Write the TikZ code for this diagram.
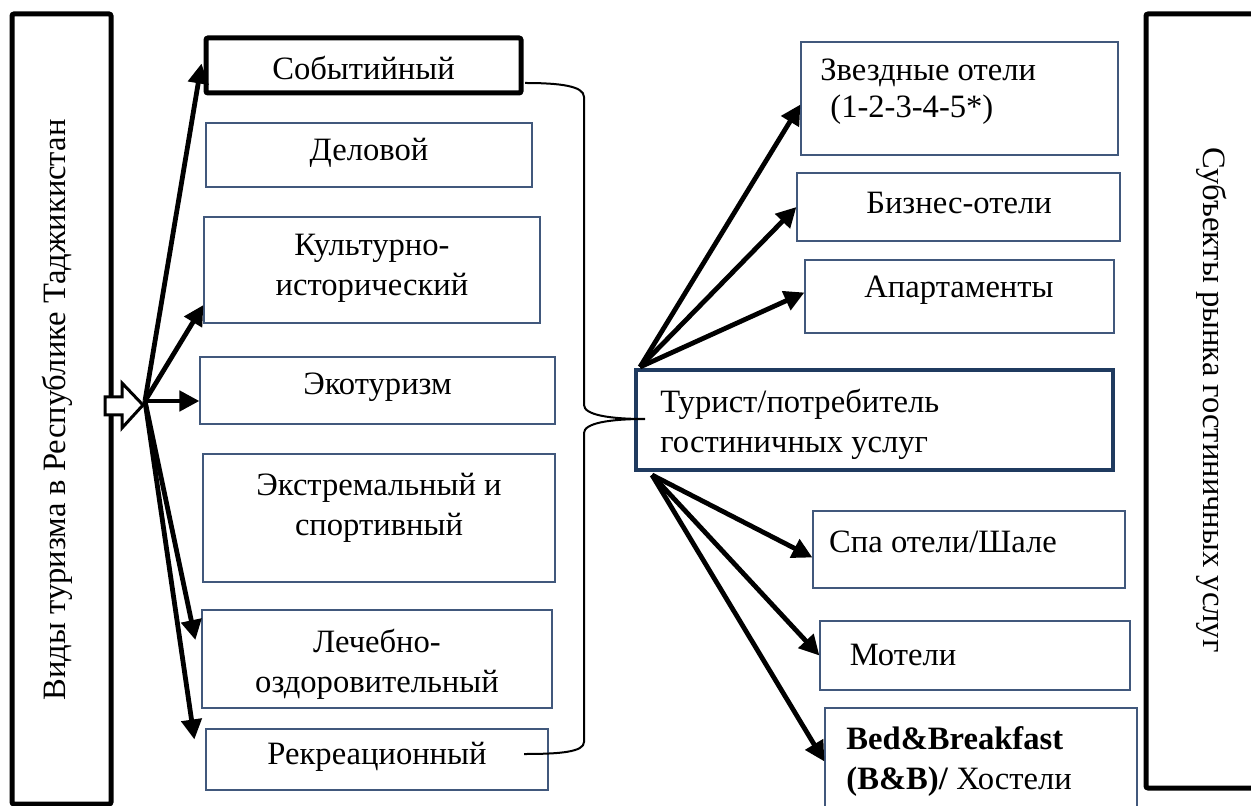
\documentclass[tikz,border=0pt]{standalone}
\usepackage{fontspec}
\setmainfont{Liberation Serif}
\usetikzlibrary{arrows.meta,calc}
\definecolor{thinb}{HTML}{41587C}
\definecolor{navy}{HTML}{1F3A5F}
\begin{document}
\begin{tikzpicture}[x=0.5pt,y=-0.5pt,
  box/.style={draw=thinb, line width=0.6pt, inner sep=0pt},
  txt/.style={font=\fontsize{16.3}{20}\selectfont, align=center, inner sep=0pt},
  arr/.style={line width=2.4pt, -{Triangle[length=10pt,width=10pt]}},
  big/.style={draw=black, line width=2.5pt, rounded corners=1pt}]
\useasboundingbox (0,0) rectangle (1251,806);
\clip (0,0) rectangle (1251,806);

% big side boxes
\node[big, minimum width=49.5pt, minimum height=395pt] (L) at (61.5,409) {};
\node[big, minimum width=59.5pt, minimum height=387pt] (R) at (1205.5,401) {};
\node[txt, rotate=90] (Lt) at (57,410) {Виды туризма в Республике Таджикистан};
\node[txt, rotate=-90] (Rt) at (1212,400) {Субъекты рынка гостиничных услуг};

% left boxes
\node[draw=black, line width=2.5pt, rounded corners=1pt, minimum width=157.5pt, minimum height=27.5pt, inner sep=0pt] (ev) at (363.5,65.5) {};
\node[txt] (evt) at (363.5,68) {Событийный};
\node[box, minimum width=163pt, minimum height=32pt] (del) at (369,155) {};
\node[txt] (delt) at (369,153) {Деловой};
\node[box, minimum width=168pt, minimum height=53pt] (kul) at (372,270) {};
\node[txt] (kult) at (372,268) {Культурно-\\исторический};
\node[box, minimum width=177.5pt, minimum height=33.5pt] (eko) at (377.5,390.5) {};
\node[txt] (ekot) at (377.5,387) {Экотуризм};
\node[box, minimum width=176pt, minimum height=64pt] (ext) at (379,518) {};
\node[txt] (extt) at (379,508) {Экстремальный и\\спортивный};
\node[box, minimum width=175pt, minimum height=49pt] (leh) at (377,659) {};
\node[txt] (leht) at (377,664) {Лечебно-\\оздоровительный};
\node[box, minimum width=171pt, minimum height=30.5pt] (rek) at (377,759.5) {};
\node[txt] (rekt) at (377,757) {Рекреационный};

% centre box
\node[draw=navy, line width=1.8pt, minimum width=238.5pt, minimum height=50pt, inner sep=0pt] (tur) at (874.5,420) {};
\node[txt, align=left, anchor=west] (turt) at (660,424) {Турист/потребитель\\гостиничных услуг};

% right boxes
\node[box, minimum width=158.5pt, minimum height=56.5pt] (zv) at (959.5,98.5) {};
\node[txt, align=left, anchor=west] (zvt) at (820,92) {Звездные отели\\[-1.5pt]\hspace{5pt}(1-2-3-4-5*)};
\node[box, minimum width=161.5pt, minimum height=34pt] (biz) at (958.5,207) {};
\node[txt] (bizt) at (959,203) {Бизнес-отели};
\node[box, minimum width=154.5pt, minimum height=36.5pt] (apt) at (959.5,296.5) {};
\node[txt] (aptt) at (959,290) {Апартаменты};
\node[box, minimum width=156pt, minimum height=38.5pt] (spa) at (969,549.5) {};
\node[txt] (spat) at (943,542) {Спа отели/Шале};
\node[box, minimum width=155pt, minimum height=34.5pt] (mot) at (975,655.5) {};
\node[txt] (mott) at (903,655) {Мотели};
\node[box, minimum width=156pt, minimum height=53.5pt] (bb) at (981,761.5) {};
\node[txt, align=left, anchor=west] (bbt) at (846,761) {\textbf{Bed\&Breakfast}\\\textbf{(B\&B)/} Хостели};

% brace
\coordinate (b1) at (525,83);
\coordinate (b2) at (645,419);
\coordinate (b3) at (524,754);
\draw[line width=1pt] (b1) .. controls (560,83) and (584,86) .. (584,97) -- (584,405)
  .. controls (584,415) and (610,419) .. (b2)
  .. controls (610,419) and (584,423) .. (584,433) -- (584,742)
  .. controls (584,752) and (560,754) .. (b3);

% hollow block arrow
\draw[line width=1.5pt, fill=white] (105,397) -- (122,397) -- (122,383) -- (143,405) -- (122,428) -- (122,415) -- (105,415) -- cycle;

% left fan
\coordinate (o) at (145,401);
\draw[arr] (o) -- ([xshift=-1pt,yshift=1pt]ev.west);
\draw[arr] (o) -- ([yshift=-17.5pt]kul.west);
\draw[arr] (o) -- ([yshift=-5.25pt]eko.west);
\draw[arr] (o) -- ([xshift=-3pt,yshift=9.5pt]leh.west);
\draw[arr] (o) -- ([xshift=-5.5pt,yshift=10pt]rek.west);

% right fans
\coordinate (o1) at (640,367);
\coordinate (o2) at (652,475);
\draw[arr] (o1) -- ([yshift=-3pt]zv.west);
\draw[arr] (o1) -- (biz.west);
\draw[arr] (o1) -- ([yshift=2pt]apt.west);
\draw[arr] (o2) -- ([yshift=-4pt]spa.west);
\draw[arr] (o2) -- (mot.west);
\draw[arr] (o2) -- (bb.west);
\end{tikzpicture}
\end{document}
